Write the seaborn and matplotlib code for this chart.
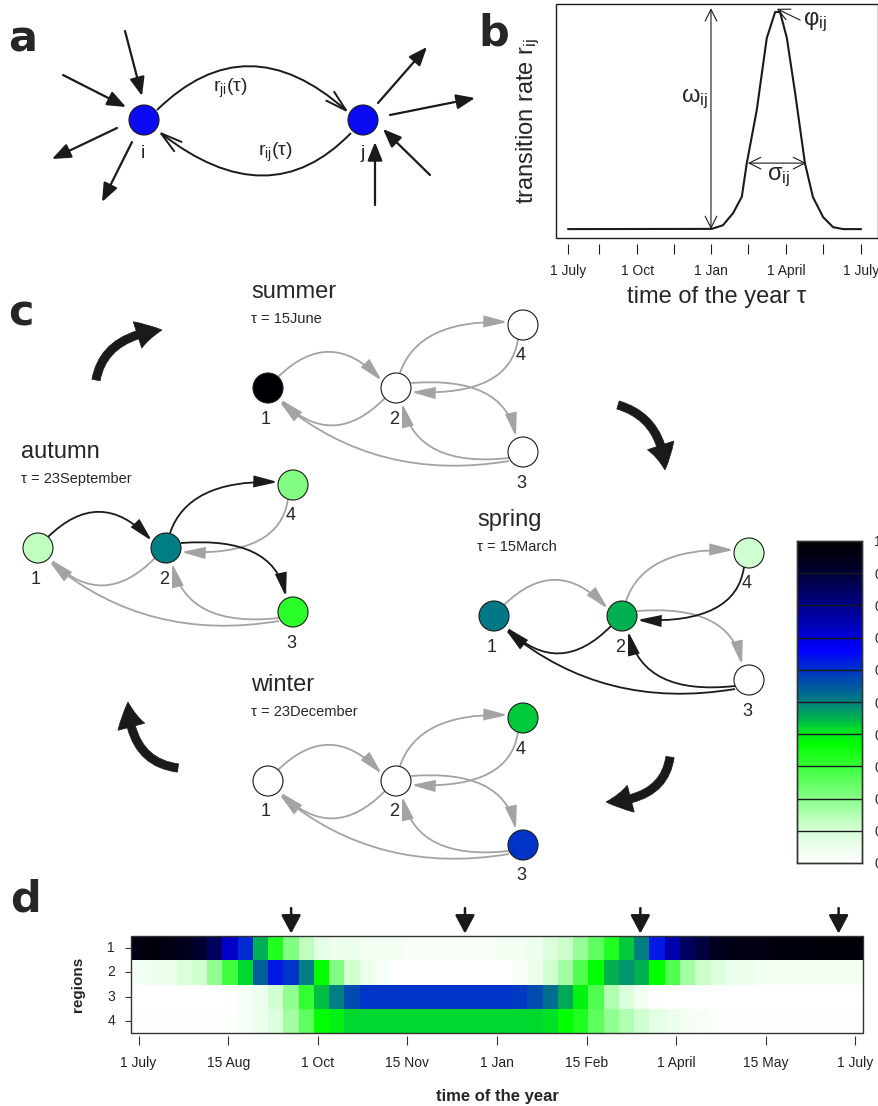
import numpy as np
import pandas as pd
import matplotlib
matplotlib.use('Agg')
import matplotlib.pyplot as plt
import seaborn as sns
from matplotlib.colors import LinearSegmentedColormap
from matplotlib.patches import Circle, FancyArrowPatch, Rectangle
from matplotlib.path import Path

sns.set_theme(style='white')
plt.rcParams['font.family'] = ['Liberation Sans', 'DejaVu Sans']
plt.rcParams['mathtext.fontset'] = 'custom'
plt.rcParams['mathtext.rm'] = 'Liberation Sans'
plt.rcParams['mathtext.it'] = 'Liberation Sans'

# ---------------- data ----------------
regions = ['1', '2', '3', '4']
region1 = [0.96, 0.98, 0.96, 0.93, 0.91, 0.85, 0.72, 0.61, 0.45, 0.33, 0.21, 0.13, 0.07, 0.05, 0.05, 0.03,
           0.03, 0.03, 0.02, 0.02, 0.02, 0.02, 0.02, 0.02, 0.03, 0.03,
           0.05, 0.09, 0.12, 0.18, 0.25, 0.33, 0.43, 0.50, 0.63, 0.75, 0.85, 0.89, 0.93,
           0.95, 0.96, 0.96, 0.97, 0.97, 0.97, 0.98, 0.98, 0.98]
region2 = [0.03, 0.05, 0.05, 0.09, 0.11, 0.19, 0.29, 0.42, 0.54, 0.63, 0.60, 0.50, 0.37, 0.21, 0.11, 0.05,
           0.02, 0, 0, 0, 0, 0, 0, 0, 0, 0.02,
           0.05, 0.11, 0.17, 0.27, 0.37, 0.45, 0.48, 0.45, 0.37, 0.27, 0.17, 0.12, 0.09,
           0.05, 0.05, 0.03, 0.03, 0.03, 0.03, 0.03, 0.03, 0.03]
region3 = [0, 0, 0, 0, 0, 0, 0, 0.02, 0.05, 0.11, 0.19, 0.31, 0.44, 0.50, 0.57, 0.60,
           0.60, 0.60, 0.60, 0.60, 0.60, 0.60, 0.60, 0.60, 0.60, 0.59,
           0.57, 0.52, 0.46, 0.39, 0.27, 0.15, 0.09, 0.03, 0.01, 0, 0, 0, 0,
           0, 0, 0, 0, 0, 0, 0, 0, 0]
region4 = [0.01, 0.01, 0.01, 0.01, 0.01, 0.01, 0.01, 0.02, 0.05, 0.09, 0.17, 0.25, 0.37, 0.39, 0.42, 0.42,
           0.42, 0.42, 0.42, 0.42, 0.42, 0.42, 0.42, 0.42, 0.42, 0.42,
           0.42, 0.41, 0.37, 0.33, 0.25, 0.19, 0.15, 0.11, 0.07, 0.05, 0.03, 0.02, 0.01,
           0.01, 0.01, 0.01, 0.01, 0.01, 0.01, 0.01, 0.01, 0.01]
d_tick_labels = ['1 July', '15 Aug', '1 Oct', '15 Nov', '1 Jan', '15 Feb', '1 April', '15 May', '1 July']
season_arrow_cells = [10.5, 21.9, 33.4, 46.4]

cmap_positions = [0.0, 0.10, 0.20, 0.30, 0.37, 0.42, 0.45, 0.50, 0.55, 0.60, 0.66, 0.75, 0.85, 0.93, 1.0]
cmap_colors = ['#ffffff', '#d8ffd8', '#88ff88', '#38ff38', '#00ff00', '#00d830', '#00b050', '#008080',
               '#0058a0', '#0034c8', '#0000ff', '#0000b0', '#000060', '#000020', '#000000']
cbar_labels = ['0', '0.1', '0.2', '0.3', '0.4', '0.5', '0.6', '0.7', '0.8', '0.9', '1']

# panel b curve
b_days = [0, 179, 193, 205.6, 216.4, 222.6, 235, 247.5, 257.9, 264, 272.5, 282.8, 295, 305, 317.7, 330, 342.6, 365]
b_rate = [0, 0.001, 0.018, 0.074, 0.149, 0.304, 0.548, 0.880, 1.0, 1.0, 0.88, 0.627, 0.304, 0.147, 0.055, 0.009, 0, 0]
b_tick_days = [0, 39, 86, 132, 178, 224, 272, 318, 365]
b_tick_labels = ['1 July', '', '1 Oct', '', '1 Jan', '', '1 April', '', '1 July']

# panel c seasons
season_names = ['summer', 'autumn', 'spring', 'winter']
season_dates = ['\u03c4 = 15June', '\u03c4 = 23September', '\u03c4 = 15March', '\u03c4 = 23December']
season_node1_xy = [(268, 388), (38, 548), (494, 616), (268, 781)]
node_values = {
    'summer': [0.99, 0.0, 0.0, 0.0],
    'autumn': [0.13, 0.50, 0.32, 0.21],
    'spring': [0.51, 0.45, 0.0, 0.11],
    'winter': [0.0, 0.0, 0.60, 0.43],
}
edge_names = ['1-2', '2-1', '2-4', '4-2', '2-3', '3-2', '3-1']
edge_active = {
    'summer': [0, 0, 0, 0, 0, 0, 0],
    'autumn': [1, 0, 1, 0, 1, 0, 0],
    'spring': [0, 1, 0, 1, 0, 1, 1],
    'winter': [0, 0, 0, 0, 0, 0, 0],
}

# ---------------- figure ----------------
W, H = 879, 1106
fig = plt.figure(figsize=(W / 100, H / 100), dpi=100)


def frac(l, t, r, b):
    return [l / W, 1 - b / H, (r - l) / W, (b - t) / H]


cmap = LinearSegmentedColormap.from_list('wgbk', list(zip(cmap_positions, cmap_colors)))

ax0 = fig.add_axes([0, 0, 1, 1])
ax0.set_xlim(0, W)
ax0.set_ylim(H, 0)
ax0.axis('off')
ax0.patch.set_alpha(0)


def curve(ax, p0, c, p2, style, ms, lw, color='k', z=2):
    path = Path([p0, c, p2], [Path.MOVETO, Path.CURVE3, Path.CURVE3])
    ax.add_patch(FancyArrowPatch(path=path, arrowstyle=style, mutation_scale=ms, lw=lw,
                                 color=color, zorder=z, joinstyle='miter', capstyle='butt'))


def straight(ax, p0, p1, style, ms, lw, color='k'):
    ax.add_patch(FancyArrowPatch(p0, p1, arrowstyle=style, mutation_scale=ms, lw=lw, color=color,
                                 shrinkA=0, shrinkB=0, zorder=2))


letter_kw = dict(fontsize=31, fontweight='bold', family='DejaVu Sans', va='baseline', ha='left')
tick_font = ['Liberation Sans Narrow', 'Liberation Sans', 'DejaVu Sans']

# ---------------- panel a ----------------
ax0.text(8, 52, 'a', **letter_kw)
for (x, y) in [(144, 120), (363, 120)]:
    ax0.add_patch(Circle((x, y), 15, fc='#0a0af5', ec='k', lw=0.8, zorder=3))
curve(ax0, (157, 110), (247, 22), (349, 113), '->,head_length=0.8,head_width=0.22', 20, 1.4)
curve(ax0, (351, 133), (269, 218), (158, 131), '->,head_length=0.8,head_width=0.22', 20, 1.4)
ext = [((125, 31), (142, 96)), ((63, 75), (126, 107)), ((117, 128), (52, 159)), ((132, 142), (102, 202)),
       ((378, 103), (427, 47)), ((390, 115), (475, 98)), ((430, 175), (383, 129)), ((375, 205), (375, 142))]
for p0, p1 in ext:
    straight(ax0, p0, p1, '-|>,head_length=0.75,head_width=0.3', 15, 1.6)
ax0.text(230, 88, r'$\mathrm{r_{ji}(\tau)}$', fontsize=14, ha='center', va='center')
ax0.text(275, 152, r'$\mathrm{r_{ij}(\tau)}$', fontsize=14, ha='center', va='center')
ax0.text(143, 153, 'i', fontsize=14, ha='center', va='center')
ax0.text(363, 153, 'j', fontsize=14, ha='center', va='center')

# ---------------- panel c ----------------
ax0.text(8, 326, 'c', **letter_kw)
rel_nodes = {'1': (0, 0), '2': (128, 0), '3': (255, 64), '4': (255, -63)}
edge_geom = {
    '1-2': ((10, -11), (62, -62), (114, -7)),
    '2-1': ((117, 10), (65, 63), (12, 11)),
    '2-4': ((132, -15), (150, -68), (240, -66)),
    '4-2': ((250, -49), (242, 8), (143, 4)),
    '2-3': ((143, -5), (235, -12), (248, 49)),
    '3-2': ((241, 70), (150, 80), (134, 15)),
    '3-1': ((241, 73), (110, 95), (11, 13)),
}
for s, name in enumerate(season_names):
    ox, oy = season_node1_xy[s]
    ax0.text(ox - 17, oy - 90, name, fontsize=17, ha='left', va='baseline')
    ax0.text(ox - 17, oy - 65, season_dates[s], fontsize=10.5, ha='left', va='baseline')
    for e, en in enumerate(edge_names):
        p0, c, p2 = edge_geom[en]
        col = 'k' if edge_active[name][e] else '#a3a3a3'
        curve(ax0, (ox + p0[0], oy + p0[1]), (ox + c[0], oy + c[1]), (ox + p2[0], oy + p2[1]),
              '-|>,head_length=0.9,head_width=0.22', 16, 1.3, color=col, z=2 + edge_active[name][e])
    for k, lab in enumerate(regions):
        rx, ry = rel_nodes[lab]
        v = node_values[name][k]
        ax0.add_patch(Circle((ox + rx, oy + ry), 15, fc=cmap(v), ec='k', lw=0.8, zorder=5))
        ax0.text(ox + rx - 2, oy + ry + 31, lab, fontsize=13, ha='center', va='center')

big = [((96, 380), (104, 336), (162, 330)),
       ((618, 405), (662, 418), (665, 470)),
       ((670, 757), (664, 800), (606, 802)),
       ((178, 768), (130, 762), (128, 702))]
for p0, c, p2 in big:
    curve(ax0, p0, c, p2, 'simple,head_length=0.9,head_width=1.0,tail_width=0.3', 20, 0.5)

# ---------------- panel b ----------------
axb = fig.add_axes(frac(556, 4, 878, 238))
sns.lineplot(x=b_days, y=b_rate, ax=axb, color='k', lw=1.5, estimator=None, sort=False)
axb.set_xlim(-15, 386)
axb.set_ylim(-0.041, 1.037)
for sp in axb.spines.values():
    sp.set_visible(False)
axb.spines['bottom'].set_position(('outward', 4))
axb.add_patch(Rectangle((0, 0), 1, 1, transform=axb.transAxes, fill=False, lw=1, ec='k', clip_on=False))
axb.set_yticks([])
axb.set_xticks(b_tick_days)
axb.set_xticklabels(b_tick_labels, family=tick_font)
axb.tick_params(axis='x', bottom=True, direction='out', length=7.5, width=0.8, color='k', pad=7,
                labelsize=10, labelcolor='#222222')
axb.set_xlabel('time of the year \u03c4', fontsize=17, labelpad=6)
axb.set_ylabel(r'transition rate $\mathrm{r_{ij}}$', fontsize=17, labelpad=10)
axb.annotate('', xy=(178, 1.018), xytext=(178, 0.0),
             arrowprops=dict(arrowstyle='<->,head_length=0.6,head_width=0.3', lw=0.8, color='k',
                             shrinkA=0, shrinkB=0, mutation_scale=14))
axb.annotate('', xy=(224, 0.304), xytext=(296.5, 0.304),
             arrowprops=dict(arrowstyle='<->,head_length=0.6,head_width=0.3', lw=0.8, color='k',
                             shrinkA=0, shrinkB=0, mutation_scale=14))
axb.annotate('', xy=(260, 1.015), xytext=(289, 0.963),
             arrowprops=dict(arrowstyle='->,head_length=0.6,head_width=0.3', lw=0.8, color='k',
                             shrinkA=0, shrinkB=0, mutation_scale=14))
axb.text(174, 0.60, r'$\mathrm{\omega_{ij}}$', fontsize=17, ha='right', va='center')
axb.text(292, 0.955, r'$\mathrm{\varphi_{ij}}$', fontsize=17, ha='left', va='center')
axb.text(262, 0.24, r'$\mathrm{\sigma_{ij}}$', fontsize=17, ha='center', va='center')
fig.text(478 / W, 1 - 46 / H, 'b', **letter_kw)

# ---------------- panel d ----------------
axd = fig.add_axes(frac(131, 936, 863, 1033))
cax = fig.add_axes(frac(797, 541, 862, 863))
df = pd.DataFrame([region1, region2, region3, region4], index=regions)
sns.heatmap(df, ax=axd, cmap=cmap, vmin=0, vmax=1, cbar_ax=cax, xticklabels=False,
            yticklabels=regions, linewidths=0)
ncol = len(region1)
d_ticks = [0.5 + (ncol - 1) * k / (len(d_tick_labels) - 1) for k in range(len(d_tick_labels))]
axd.set_xticks(d_ticks)
axd.set_xticklabels(d_tick_labels, family=tick_font)
axd.set_yticklabels(regions, family=tick_font)
for sp in axd.spines.values():
    sp.set_visible(False)
axd.spines['bottom'].set_position(('outward', 2))
axd.add_patch(Rectangle((0, 0), 1, 1, transform=axd.transAxes, fill=False, lw=1, ec='#333333', clip_on=False))
axd.tick_params(axis='x', bottom=True, direction='out', length=6.5, width=0.8, color='#333333', pad=8,
                labelsize=10, labelcolor='#222222', rotation=0)
axd.tick_params(axis='y', left=True, direction='out', length=4.5, width=0.8, color='#333333', pad=7,
                labelsize=10, labelcolor='#222222', rotation=0)
axd.set_xlabel('time of the year', fontsize=12, fontweight='bold', labelpad=14)
axd.set_ylabel('regions', fontsize=11, fontweight='bold', labelpad=16)
for xc in season_arrow_cells:
    axd.annotate('', xy=(xc, -0.1), xytext=(xc, -1.15), annotation_clip=False,
                 arrowprops=dict(arrowstyle='-|>,head_length=0.75,head_width=0.4', lw=1.8, color='k',
                                 shrinkA=0, shrinkB=0, mutation_scale=15))
fig.text(10 / W, 1 - 912 / H, 'd', **letter_kw)

cax.set_yticks([i / 10 for i in range(11)])
cax.set_yticklabels(cbar_labels)
cax.tick_params(axis='y', length=0, pad=9, labelsize=10)
for i in range(1, 10):
    cax.axhline(i / 10, color='k', lw=1)
for sp in cax.spines.values():
    sp.set_visible(True)
    sp.set_color('#333333')
    sp.set_linewidth(1)

fig.savefig('out.png', dpi=100)
